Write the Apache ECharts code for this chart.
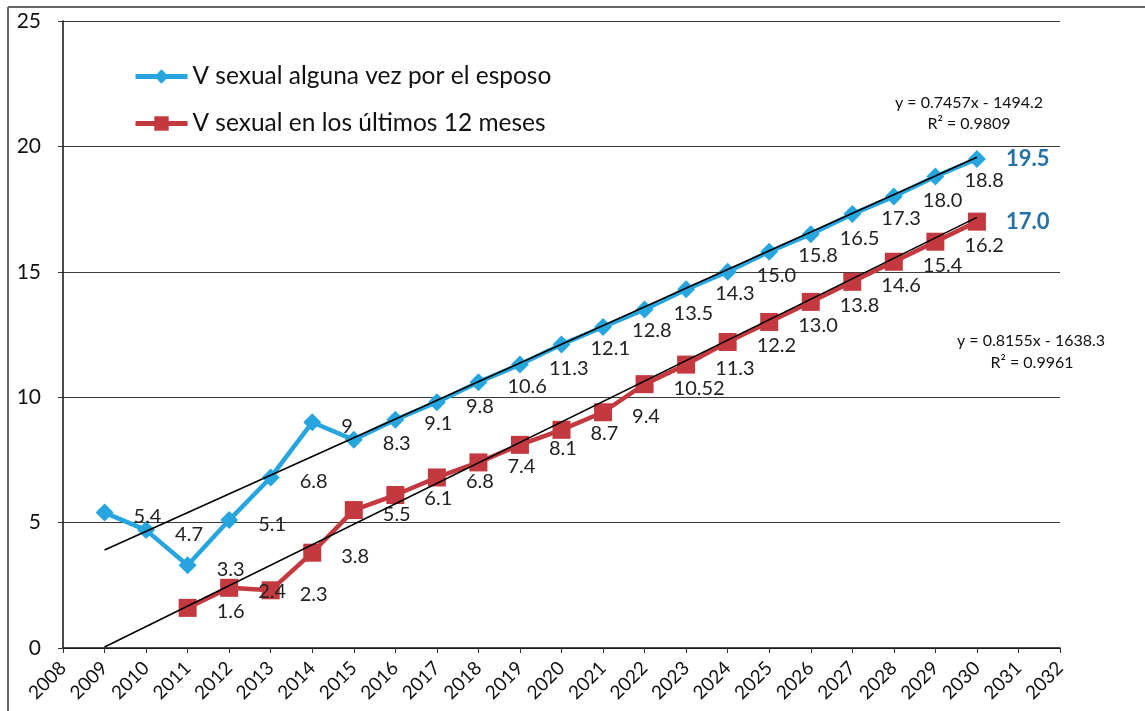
<!DOCTYPE html>
<html>
<head>
<meta charset="utf-8">
<script src="https://cdn.jsdelivr.net/npm/echarts@6/dist/echarts.min.js"></script>
<style>
html,body{margin:0;padding:0;background:#fff;}
#chart{width:1145px;height:711px;}
</style>
</head>
<body>
<div id="chart"></div>
<script>
const years = [2009,2010,2011,2012,2013,2014,2015,2016,2017,2018,2019,2020,2021,2022,2023,2024,2025,2026,2027,2028,2029,2030];
const blueName = 'V sexual alguna vez por el esposo';
const redName = 'V sexual en los últimos 12 meses';
const blueValues = [5.4,4.7,3.3,5.1,6.8,9,8.3,9.1,9.8,10.6,11.3,12.1,12.8,13.5,14.3,15.0,15.8,16.5,17.3,18.0,18.8,19.5];
const blueLabels = ['5.4','4.7','3.3','5.1','6.8','9','8.3','9.1','9.8','10.6','11.3','12.1','12.8','13.5','14.3','15.0','15.8','16.5','17.3','18.0','18.8','19.5'];
const redYears = [2011,2012,2013,2014,2015,2016,2017,2018,2019,2020,2021,2022,2023,2024,2025,2026,2027,2028,2029,2030];
const redValues = [1.6,2.4,2.3,3.8,5.5,6.1,6.8,7.4,8.1,8.7,9.4,10.52,11.3,12.2,13.0,13.8,14.6,15.4,16.2,17.0];
const redLabels = ['1.6','2.4','2.3','3.8','5.5','6.1','6.8','7.4','8.1','8.7','9.4','10.52','11.3','12.2','13.0','13.8','14.6','15.4','16.2','17.0'];
// trend line endpoints (from the printed equations)
const blueTrendX = [2009, 2030];
const blueTrendY = [3.91, 19.57];
const redTrendX = [2009, 2030];
const redTrendY = [0.04, 17.17];
const blueEq = ['y = 0.7457x - 1494.2', 'R² = 0.9809'];
const redEq = ['y = 0.8155x - 1638.3', 'R² = 0.9961'];

const FONT = 'Lato, "Open Sans", sans-serif';
const BLUE = '#27A5DE';
const RED = '#C4393F';
const LBLUE = '#2472A8';

function buildData(xs, ys, labels) {
  return xs.map((x, i) => {
    const item = { value: [x, ys[i]], lbl: labels[i] };
    if (i === xs.length - 1) {
      item.label = { color: LBLUE, fontWeight: 'bold', fontSize: 22, offset: [0, 0] };
    }
    return item;
  });
}

const chart = echarts.init(document.getElementById('chart'), null, { renderer: 'canvas' });
const labelBase = {
  show: true, position: 'right', distance: 20, offset: [0, 4],
  fontSize: 20, color: '#222', fontFamily: FONT,
  formatter: p => p.data.lbl
};
chart.setOption({
  animation: false,
  backgroundColor: '#fff',
  textStyle: { fontFamily: FONT },
  grid: { left: 63, right: 85, top: 21, bottom: 63 },
  legend: {
    data: [blueName, redName],
    orient: 'vertical', left: 133, top: 64, padding: 0,
    itemWidth: 52, itemHeight: 18, itemGap: 22,
    lineStyle: { width: 5 },
    textStyle: { fontSize: 24.5, color: '#111', fontFamily: FONT }
  },
  xAxis: {
    type: 'value', min: 2008, max: 2032, interval: 1,
    axisLine: { show: true, onZero: false, lineStyle: { color: '#111', width: 1.5 } },
    axisTick: { show: true, length: 5, lineStyle: { color: '#333' } },
    splitLine: { show: false },
    axisLabel: { rotate: 45, fontSize: 19, color: '#111', margin: 17, formatter: v => String(v) }
  },
  yAxis: {
    type: 'value', min: 0, max: 25, interval: 5,
    axisLine: { show: true, lineStyle: { color: '#111', width: 1.5 } },
    axisTick: { show: true, length: 5, lineStyle: { color: '#333' } },
    splitLine: { show: true, lineStyle: { color: '#3a3a3a', width: 1.2 } },
    axisLabel: { fontSize: 21, color: '#111', margin: 22 }
  },
  series: [
    {
      name: blueName, type: 'line',
      data: buildData(years, blueValues, blueLabels),
      symbol: 'diamond', symbolSize: 18,
      lineStyle: { color: BLUE, width: 4.5 },
      itemStyle: { color: BLUE },
      label: labelBase, z: 3
    },
    {
      name: redName, type: 'line',
      data: buildData(redYears, redValues, redLabels),
      symbol: 'rect', symbolSize: 18,
      lineStyle: { color: RED, width: 4.5 },
      itemStyle: { color: RED },
      label: labelBase, z: 3
    },
    {
      name: 'trendBlue', type: 'line', silent: true,
      data: blueTrendX.map((x, i) => [x, blueTrendY[i]]),
      symbol: 'none', lineStyle: { color: '#000', width: 1.6 }, z: 4
    },
    {
      name: 'trendRed', type: 'line', silent: true,
      data: redTrendX.map((x, i) => [x, redTrendY[i]]),
      symbol: 'none', lineStyle: { color: '#000', width: 1.6 }, z: 4
    }
  ],
  graphic: [
    { type: 'line', shape: { x1: 8, y1: 7, x2: 1145, y2: 7 }, style: { stroke: '#666', lineWidth: 2 } },
    { type: 'line', shape: { x1: 8, y1: 7, x2: 8, y2: 711 }, style: { stroke: '#666', lineWidth: 2 } },
    { type: 'text', x: 969, y: 103, style: { text: blueEq[0], font: '16px ' + FONT, fill: '#111', align: 'center', verticalAlign: 'middle' } },
    { type: 'text', x: 969, y: 124, style: { text: blueEq[1], font: '16px ' + FONT, fill: '#111', align: 'center', verticalAlign: 'middle' } },
    { type: 'text', x: 1031, y: 341, style: { text: redEq[0], font: '16px ' + FONT, fill: '#111', align: 'center', verticalAlign: 'middle' } },
    { type: 'text', x: 1032, y: 363, style: { text: redEq[1], font: '16px ' + FONT, fill: '#111', align: 'center', verticalAlign: 'middle' } }
  ]
});
</script>
</body>
</html>
